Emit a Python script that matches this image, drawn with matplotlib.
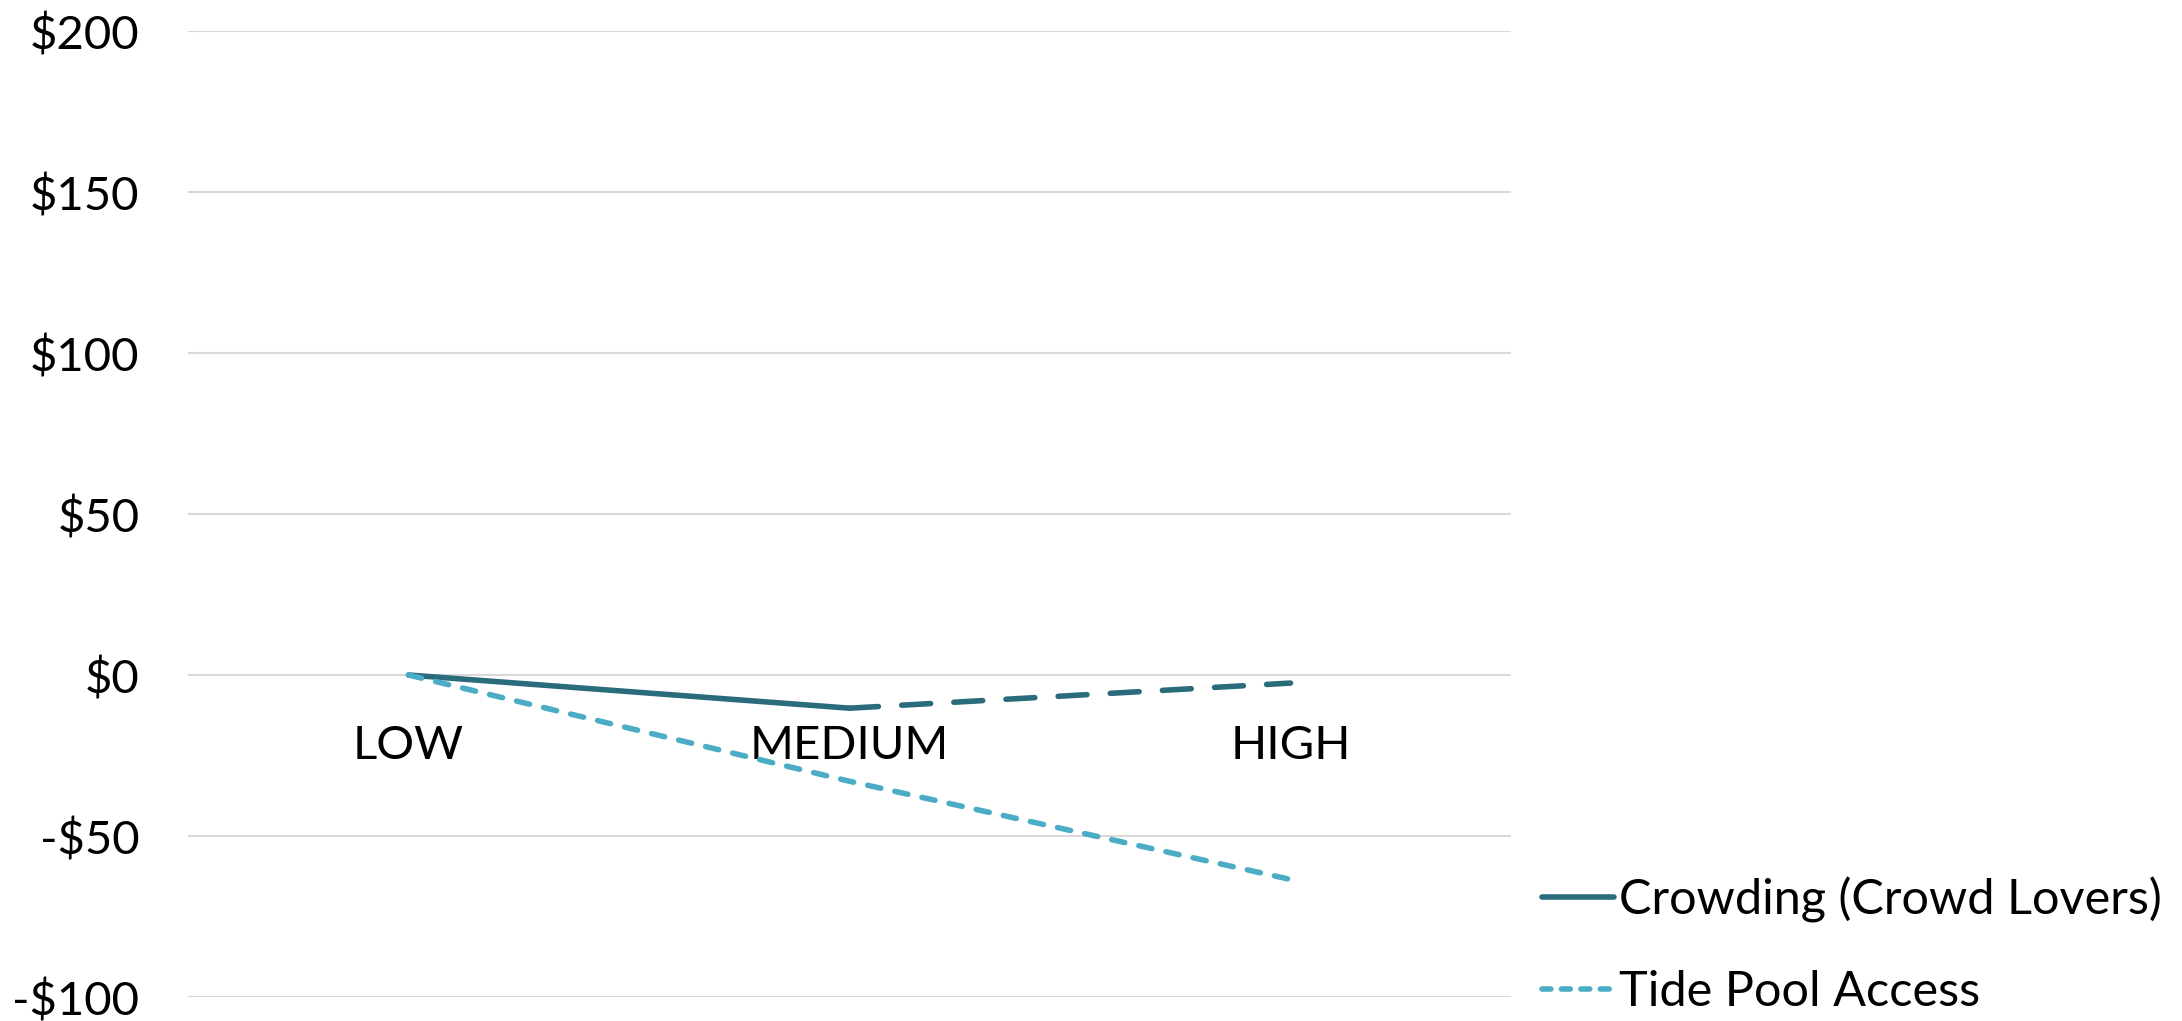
import matplotlib.pyplot as plt
from matplotlib.ticker import FuncFormatter

levels = ['LOW', 'MEDIUM', 'HIGH']
crowding = [0, -10.3, -2.5]
tide_pool = [0, -33, -63.5]
y_ticks = [-100, -50, 0, 50, 100, 150, 200]

plt.rcParams['font.family'] = ['Lato', 'DejaVu Sans']

fig = plt.figure(figsize=(21.82, 10.21), dpi=100)
ax = fig.add_axes([0.0862, 0.0235, 0.6063, 0.9461])

dark = '#2A6B7C'
light = '#4BACC6'
lw = 4.0
x = list(range(len(levels)))

# crowding: solid up to MEDIUM, dashed afterwards
ax.plot(x[:2], crowding[:2], color=dark, lw=lw, solid_capstyle='round', zorder=3)
ax.plot(x[1:], crowding[1:], color=dark, lw=lw, dashes=(5.2, 4.2),
        dash_capstyle='round', zorder=3)
ax.plot(x, tide_pool, color=light, lw=lw, dashes=(2.4, 2.6),
        dash_capstyle='round', zorder=3)

ax.set_xlim(-0.5, 2.5)
ax.set_ylim(-100, 200)
ax.set_yticks(y_ticks)
ax.yaxis.set_major_formatter(FuncFormatter(lambda v, p: f'${v:.0f}' if v >= 0 else f'-${-v:.0f}'))
ax.grid(axis='y', color='#D9D9D9', lw=1.5)
ax.set_axisbelow(True)
for s in ax.spines.values():
    s.set_visible(False)
ax.spines['bottom'].set_position(('data', 0))
ax.set_xticks(x)
ax.set_xticklabels(levels)
ax.tick_params(axis='y', length=0, pad=35, labelsize=34)
ax.tick_params(axis='x', length=0, pad=36, labelsize=34)

# legend handles built from the same styles
h1, = ax.plot([], [], color=dark, lw=lw, solid_capstyle='round')
h2, = ax.plot([], [], color=light, lw=lw, dashes=(1.6, 1.9), dash_capstyle='round')
fig.legend([h1, h2], ['Crowding (Crowd Lovers)', 'Tide Pool Access'],
           loc='center left', bbox_to_anchor=(0.6865, 0.074), frameon=False,
           fontsize=35, handlelength=1.48, handletextpad=0.12, labelspacing=0.97)

fig.savefig('out.png', dpi=100)
